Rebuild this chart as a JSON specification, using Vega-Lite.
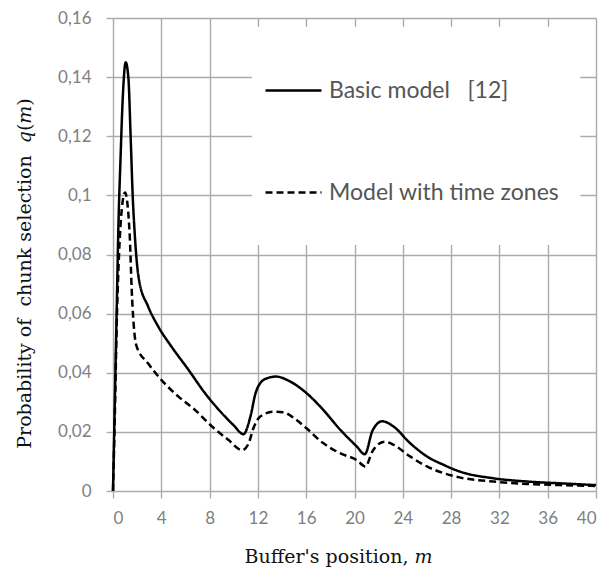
{
  "$schema": "https://vega.github.io/schema/vega-lite/v6.json",
  "width": 483,
  "height": 473,
  "autosize": {"type": "none"},
  "padding": {"left": 113, "top": 18, "right": 14, "bottom": 76},
  "background": "white",
  "config": {
    "view": {"stroke": null},
    "axis": {
      "grid": true,
      "gridColor": "#ababab",
      "gridWidth": 1.4,
      "domain": false,
      "ticks": true,
      "tickColor": "#ababab",
      "tickWidth": 1.4,
      "tickSize": 7,
      "labelFont": "Lato",
      "labelFontSize": 17,
      "labelColor": "#808080",
      "titleFont": "DejaVu Serif",
      "titleFontSize": 19,
      "titleFontWeight": "normal",
      "titleColor": "#111111"
    }
  },
  "datasets": {
    "curves": [
      {"m": 0, "q": 0, "model": "Basic model\u00a0\u00a0\u00a0[12]"},
      {"m": 0.15, "q": 0.03, "model": "Basic model\u00a0\u00a0\u00a0[12]"},
      {"m": 0.3, "q": 0.06, "model": "Basic model\u00a0\u00a0\u00a0[12]"},
      {"m": 0.45, "q": 0.09, "model": "Basic model\u00a0\u00a0\u00a0[12]"},
      {"m": 0.62, "q": 0.112, "model": "Basic model\u00a0\u00a0\u00a0[12]"},
      {"m": 0.82, "q": 0.134, "model": "Basic model\u00a0\u00a0\u00a0[12]"},
      {"m": 1.05, "q": 0.145, "model": "Basic model\u00a0\u00a0\u00a0[12]"},
      {"m": 1.27, "q": 0.14, "model": "Basic model\u00a0\u00a0\u00a0[12]"},
      {"m": 1.46, "q": 0.12, "model": "Basic model\u00a0\u00a0\u00a0[12]"},
      {"m": 1.63, "q": 0.1, "model": "Basic model\u00a0\u00a0\u00a0[12]"},
      {"m": 1.8, "q": 0.087, "model": "Basic model\u00a0\u00a0\u00a0[12]"},
      {"m": 1.96, "q": 0.078, "model": "Basic model\u00a0\u00a0\u00a0[12]"},
      {"m": 2.15, "q": 0.0715, "model": "Basic model\u00a0\u00a0\u00a0[12]"},
      {"m": 2.9, "q": 0.0625, "model": "Basic model\u00a0\u00a0\u00a0[12]"},
      {"m": 3.75, "q": 0.0556, "model": "Basic model\u00a0\u00a0\u00a0[12]"},
      {"m": 4.85, "q": 0.0488, "model": "Basic model\u00a0\u00a0\u00a0[12]"},
      {"m": 6.25, "q": 0.041, "model": "Basic model\u00a0\u00a0\u00a0[12]"},
      {"m": 7.6, "q": 0.0332, "model": "Basic model\u00a0\u00a0\u00a0[12]"},
      {"m": 9.0, "q": 0.0264, "model": "Basic model\u00a0\u00a0\u00a0[12]"},
      {"m": 10.0, "q": 0.0222, "model": "Basic model\u00a0\u00a0\u00a0[12]"},
      {"m": 10.8, "q": 0.0192, "model": "Basic model\u00a0\u00a0\u00a0[12]"},
      {"m": 11.4, "q": 0.0255, "model": "Basic model\u00a0\u00a0\u00a0[12]"},
      {"m": 11.8, "q": 0.033, "model": "Basic model\u00a0\u00a0\u00a0[12]"},
      {"m": 12.2, "q": 0.0365, "model": "Basic model\u00a0\u00a0\u00a0[12]"},
      {"m": 12.8, "q": 0.0382, "model": "Basic model\u00a0\u00a0\u00a0[12]"},
      {"m": 13.5, "q": 0.0387, "model": "Basic model\u00a0\u00a0\u00a0[12]"},
      {"m": 14.6, "q": 0.0372, "model": "Basic model\u00a0\u00a0\u00a0[12]"},
      {"m": 16.0, "q": 0.0332, "model": "Basic model\u00a0\u00a0\u00a0[12]"},
      {"m": 17.4, "q": 0.0275, "model": "Basic model\u00a0\u00a0\u00a0[12]"},
      {"m": 18.8, "q": 0.0208, "model": "Basic model\u00a0\u00a0\u00a0[12]"},
      {"m": 20.2, "q": 0.015, "model": "Basic model\u00a0\u00a0\u00a0[12]"},
      {"m": 20.85, "q": 0.0124, "model": "Basic model\u00a0\u00a0\u00a0[12]"},
      {"m": 21.5, "q": 0.0205, "model": "Basic model\u00a0\u00a0\u00a0[12]"},
      {"m": 22.3, "q": 0.0236, "model": "Basic model\u00a0\u00a0\u00a0[12]"},
      {"m": 23.2, "q": 0.0219, "model": "Basic model\u00a0\u00a0\u00a0[12]"},
      {"m": 24.6, "q": 0.0162, "model": "Basic model\u00a0\u00a0\u00a0[12]"},
      {"m": 26.0, "q": 0.0117, "model": "Basic model\u00a0\u00a0\u00a0[12]"},
      {"m": 27.4, "q": 0.0088, "model": "Basic model\u00a0\u00a0\u00a0[12]"},
      {"m": 28.7, "q": 0.0066, "model": "Basic model\u00a0\u00a0\u00a0[12]"},
      {"m": 31.5, "q": 0.0043, "model": "Basic model\u00a0\u00a0\u00a0[12]"},
      {"m": 34.3, "q": 0.0032, "model": "Basic model\u00a0\u00a0\u00a0[12]"},
      {"m": 37.0, "q": 0.0026, "model": "Basic model\u00a0\u00a0\u00a0[12]"},
      {"m": 40, "q": 0.002, "model": "Basic model\u00a0\u00a0\u00a0[12]"},
      {"m": 0, "q": 0, "model": "Model with time zones"},
      {"m": 0.15, "q": 0.025, "model": "Model with time zones"},
      {"m": 0.3, "q": 0.055, "model": "Model with time zones"},
      {"m": 0.5, "q": 0.08, "model": "Model with time zones"},
      {"m": 0.72, "q": 0.095, "model": "Model with time zones"},
      {"m": 1.0, "q": 0.101, "model": "Model with time zones"},
      {"m": 1.2, "q": 0.097, "model": "Model with time zones"},
      {"m": 1.4, "q": 0.085, "model": "Model with time zones"},
      {"m": 1.55, "q": 0.068, "model": "Model with time zones"},
      {"m": 1.7, "q": 0.057, "model": "Model with time zones"},
      {"m": 1.95, "q": 0.049, "model": "Model with time zones"},
      {"m": 2.9, "q": 0.0432, "model": "Model with time zones"},
      {"m": 4.0, "q": 0.0376, "model": "Model with time zones"},
      {"m": 5.4, "q": 0.032, "model": "Model with time zones"},
      {"m": 6.8, "q": 0.0274, "model": "Model with time zones"},
      {"m": 8.2, "q": 0.0218, "model": "Model with time zones"},
      {"m": 9.55, "q": 0.0173, "model": "Model with time zones"},
      {"m": 10.7, "q": 0.0138, "model": "Model with time zones"},
      {"m": 11.2, "q": 0.0158, "model": "Model with time zones"},
      {"m": 11.65, "q": 0.0215, "model": "Model with time zones"},
      {"m": 12.2, "q": 0.0252, "model": "Model with time zones"},
      {"m": 13.3, "q": 0.0268, "model": "Model with time zones"},
      {"m": 14.1, "q": 0.0266, "model": "Model with time zones"},
      {"m": 15.2, "q": 0.024, "model": "Model with time zones"},
      {"m": 16.0, "q": 0.0213, "model": "Model with time zones"},
      {"m": 17.4, "q": 0.0162, "model": "Model with time zones"},
      {"m": 18.8, "q": 0.0128, "model": "Model with time zones"},
      {"m": 20.2, "q": 0.0104, "model": "Model with time zones"},
      {"m": 20.9, "q": 0.0083, "model": "Model with time zones"},
      {"m": 21.5, "q": 0.0135, "model": "Model with time zones"},
      {"m": 22.5, "q": 0.0167, "model": "Model with time zones"},
      {"m": 23.2, "q": 0.0157, "model": "Model with time zones"},
      {"m": 24.6, "q": 0.0117, "model": "Model with time zones"},
      {"m": 26.0, "q": 0.0083, "model": "Model with time zones"},
      {"m": 27.4, "q": 0.006, "model": "Model with time zones"},
      {"m": 28.7, "q": 0.0046, "model": "Model with time zones"},
      {"m": 31.5, "q": 0.0032, "model": "Model with time zones"},
      {"m": 34.3, "q": 0.0024, "model": "Model with time zones"},
      {"m": 37.0, "q": 0.002, "model": "Model with time zones"},
      {"m": 40, "q": 0.0017, "model": "Model with time zones"}
    ]
  },
  "layer": [
    {
      "data": {"values": [{}]},
      "mark": {"type": "rect", "fill": "white", "stroke": null},
      "encoding": {
        "x": {"datum": 11.5, "type": "quantitative", "scale": {"domain": [0, 40], "nice": false}},
        "x2": {"datum": 38.7},
        "y": {"datum": 0.157, "type": "quantitative", "scale": {"domain": [0, 0.16], "nice": false}},
        "y2": {"datum": 0.0832}
      }
    },
    {
      "data": {"name": "curves"},
      "mark": {"type": "line", "interpolate": "monotone", "strokeWidth": 2.5, "color": "black"},
      "encoding": {
        "x": {
          "field": "m",
          "type": "quantitative",
          "scale": {"domain": [0, 40], "nice": false},
          "axis": {
            "values": [0, 4, 8, 12, 16, 20, 24, 28, 32, 36, 40],
            "labelPadding": 12,
            "title": "Buffer's position, \ud835\udc5a",
            "titleX": 225,
            "titleY": 71,
            "titleBaseline": "alphabetic",
            "titleAnchor": null,
            "titleAlign": "center"
          }
        },
        "y": {
          "field": "q",
          "type": "quantitative",
          "scale": {"domain": [0, 0.16], "nice": false},
          "axis": {
            "values": [0, 0.02, 0.04, 0.06, 0.08, 0.1, 0.12, 0.14, 0.16],
            "format": ".2~f",
            "labelExpr": "replace(datum.label, '.', ',')",
            "labelPadding": 15,
            "title": "Probability of\u00a0 chunk selection\u00a0 \ud835\udc5e(\ud835\udc5a)",
            "titleX": -83,
            "titleY": 255,
            "titleBaseline": "alphabetic",
            "titleAlign": "center",
            "titleAngle": -90
          }
        },
        "strokeDash": {
          "field": "model",
          "type": "nominal",
          "scale": {
            "domain": ["Basic model\u00a0\u00a0\u00a0[12]", "Model with time zones"],
            "range": [[1, 0], [7, 4]]
          },
          "legend": {
            "title": null,
            "orient": "none",
            "legendX": 151,
            "legendY": 43,
            "padding": 0,
            "symbolType": "stroke",
            "symbolSize": 3136,
            "symbolStrokeWidth": 2.6,
            "symbolStrokeColor": "black",
            "labelFont": "Lato",
            "labelFontSize": 23,
            "labelColor": "#555555",
            "labelOffset": 6,
            "rowPadding": 60,
            "labelLimit": 400
          }
        }
      }
    }
  ]
}
